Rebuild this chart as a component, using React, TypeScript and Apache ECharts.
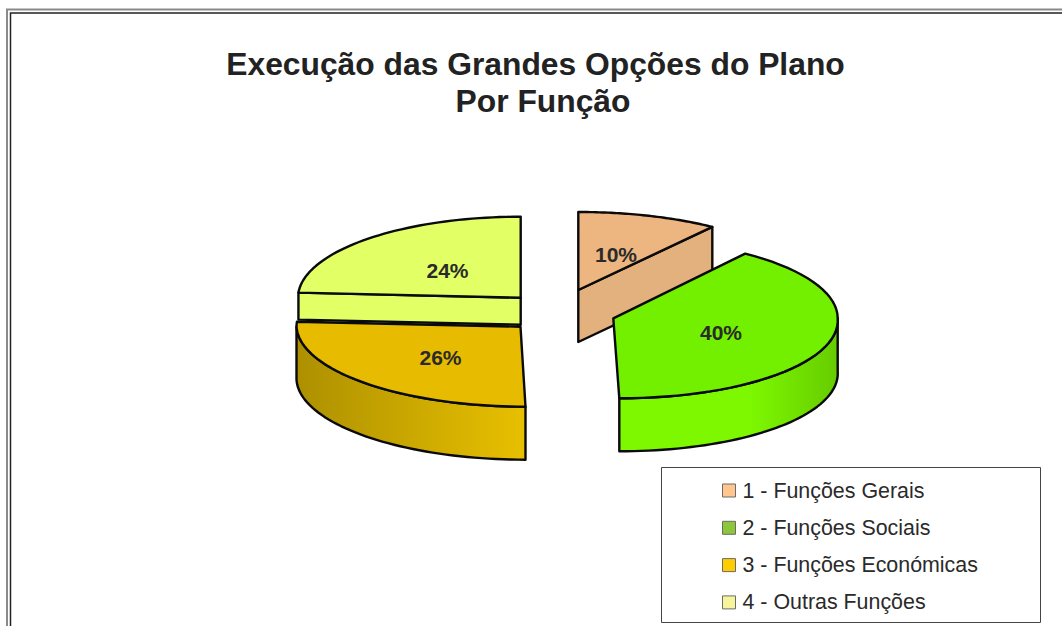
import React, { useEffect, useRef } from "react";
import * as echarts from "echarts";

const categories = ["1 - Funções Gerais", "2 - Funções Sociais", "3 - Funções Económicas", "4 - Outras Funções"];
const values = [10, 40, 26, 24];
const titleLines = ["Execução das Grandes Opções do Plano", "Por Função"];
const legendColors = ["#FFC78F", "#8CC63A", "#FFCC00", "#F7F59A"];

const total = values.reduce((a, b) => a + b, 0);
const startOf = (i: number) => values.slice(0, i).reduce((a, b) => a + b, 0) / total * Math.PI * 2;

// Placement of each extruded wedge: they are not one solid, each has its own centre and depth.
const wedges = [
  { cx: 578.3, cy: 290, rx: 228, ry: 78, depth: 52, skew: 0, top: "#EDB57F", mode: "cut", side: "#E3B17D", sideEnd: "#E3B17D", lx: 616, ly: 254 },
  { cx: 613.3, cy: 318.3, rx: 224.4, ry: 80, depth: 53, skew: 6, top: "#72F000", mode: "rim", side: "#7DF800", sideEnd: "#66CC00", lx: 721, ly: 332 },
  { cx: 520.5, cy: 326.7, rx: 224, ry: 80, depth: 53, skew: 5, top: "#E6BB00", mode: "rim", side: "#E8C000", sideEnd: "#AD9000", lx: 440.5, ly: 357 },
  { cx: 520.7, cy: 297.7, rx: 222.7, ry: 81, depth: 27, skew: 0, top: "#E2FF66", mode: "cut", side: "#E2FF66", sideEnd: "#E2FF66", lx: 447.5, ly: 270 },
];
const drawOrder = [3, 2, 0, 1];

const STEPS = 48;
function pt(w: any, a: number, dy = 0): number[] {
  const s = Math.cos(a) < 0 ? -Math.cos(a) * w.skew : 0;
  return [w.cx + w.rx * Math.sin(a) + s, w.cy - w.ry * Math.cos(a) + dy];
}
function arc(w: any, a0: number, a1: number, dy = 0): number[][] {
  const out: number[][] = [];
  for (let k = 0; k <= STEPS; k++) out.push(pt(w, a0 + (a1 - a0) * k / STEPS, dy));
  return out;
}

function renderWedge(i: number) {
  return (_params: any, api: any) => {
    const v = api.value(0);
    const w = wedges[i];
    const a0 = startOf(i);
    const a1 = a0 + v / total * Math.PI * 2;
    const line = { stroke: "#0a0a0a", lineWidth: 2.4, lineJoin: "round" };
    const children: any[] = [];
    const apex = [w.cx, w.cy];
    const apexLow = [w.cx, w.cy + w.depth];
    if (w.mode === "cut") {
      const cutA = i === 0 ? a1 : a0;
      const edge = pt(w, cutA);
      const edgeLow = pt(w, cutA, w.depth);
      children.push({
        type: "polygon",
        shape: { points: [apex, edge, edgeLow, apexLow] },
        style: { fill: w.side, ...line },
      });
    } else {
      const r0 = Math.max(a0, Math.PI / 2);
      const r1 = Math.min(a1, Math.PI * 1.5);
      const upper = arc(w, r0, r1);
      const lower = arc(w, r1, r0, w.depth);
      const xs = upper.map((p) => p[0]);
      const fromLeft = i === 2;
      const grad = new echarts.graphic.LinearGradient(
        Math.min(...xs), 0, Math.max(...xs), 0,
        [
          { offset: 0, color: fromLeft ? w.sideEnd : w.side },
          { offset: fromLeft ? 1 : 0.6, color: w.side },
          { offset: 1, color: fromLeft ? w.side : w.sideEnd },
        ],
        true
      );
      children.push({
        type: "polygon",
        shape: { points: upper.concat(lower) },
        style: { fill: grad, ...line },
      });
    }
    children.push({
      type: "polygon",
      shape: { points: [apex, ...arc(w, a0, a1)] },
      style: { fill: w.top, ...line },
    });
    children.push({
      type: "text",
      x: w.lx,
      y: w.ly,
      style: {
        text: `${v}%`,
        fill: "#2a2a2a",
        font: "bold 21px 'Liberation Sans'",
        align: "center",
        verticalAlign: "middle",
      },
    });
    return { type: "group", children };
  };
}

export default function App() {
  const ref = useRef<HTMLDivElement>(null);
  useEffect(() => {
    const chart = echarts.init(ref.current!, undefined, { renderer: "svg" });
    chart.setOption({
      animation: false,
      backgroundColor: "#ffffff",
      title: [
        {
          text: titleLines[0],
          left: 530.5,
          top: 43,
          textAlign: "center",
          textStyle: { fontFamily: "Liberation Sans", fontWeight: "bold", fontSize: 31.8, color: "#222222" },
        },
        {
          text: titleLines[1],
          left: 538,
          top: 80,
          textAlign: "center",
          textStyle: { fontFamily: "Liberation Sans", fontWeight: "bold", fontSize: 31.8, color: "#222222" },
        },
      ],
      legend: {
        orient: "vertical",
        left: 722,
        top: 480,
        padding: 0,
        itemWidth: 13,
        itemHeight: 13,
        itemGap: 16.3,
        icon: "rect",
        selectedMode: false,
        textStyle: { fontFamily: "Liberation Sans", fontSize: 21.4, lineHeight: 20, color: "#2a2a2a", padding: [0, 0, 0, 2] },
        data: categories.map((name, i) => ({
          name,
          itemStyle: { color: legendColors[i], borderColor: "#6b6b6b", borderWidth: 1 },
        })),
      },
      graphic: [
        { type: "rect", shape: { x: 7, y: 9.5, width: 1200, height: 800 }, style: { fill: "none", stroke: "#8a8a8a", lineWidth: 2 }, silent: true },
        { type: "rect", shape: { x: 10.5, y: 13, width: 1200, height: 800 }, style: { fill: "none", stroke: "#222222", lineWidth: 1.5 }, silent: true },
        { type: "rect", shape: { x: 661.5, y: 467.5, width: 379, height: 155 }, style: { fill: "#ffffff", stroke: "#444444", lineWidth: 1 }, silent: true },
      ],
      series: drawOrder.map((i) => ({
        type: "custom",
        name: categories[i],
        coordinateSystem: "none",
        itemStyle: { color: legendColors[i] },
        renderItem: renderWedge(i),
        data: [[values[i]]],
        silent: true,
      })),
    });
    return () => chart.dispose();
  }, []);
  return <div ref={ref} style={{ position: "fixed", left: 0, top: 0, width: 1062, height: 626 }} />;
}
